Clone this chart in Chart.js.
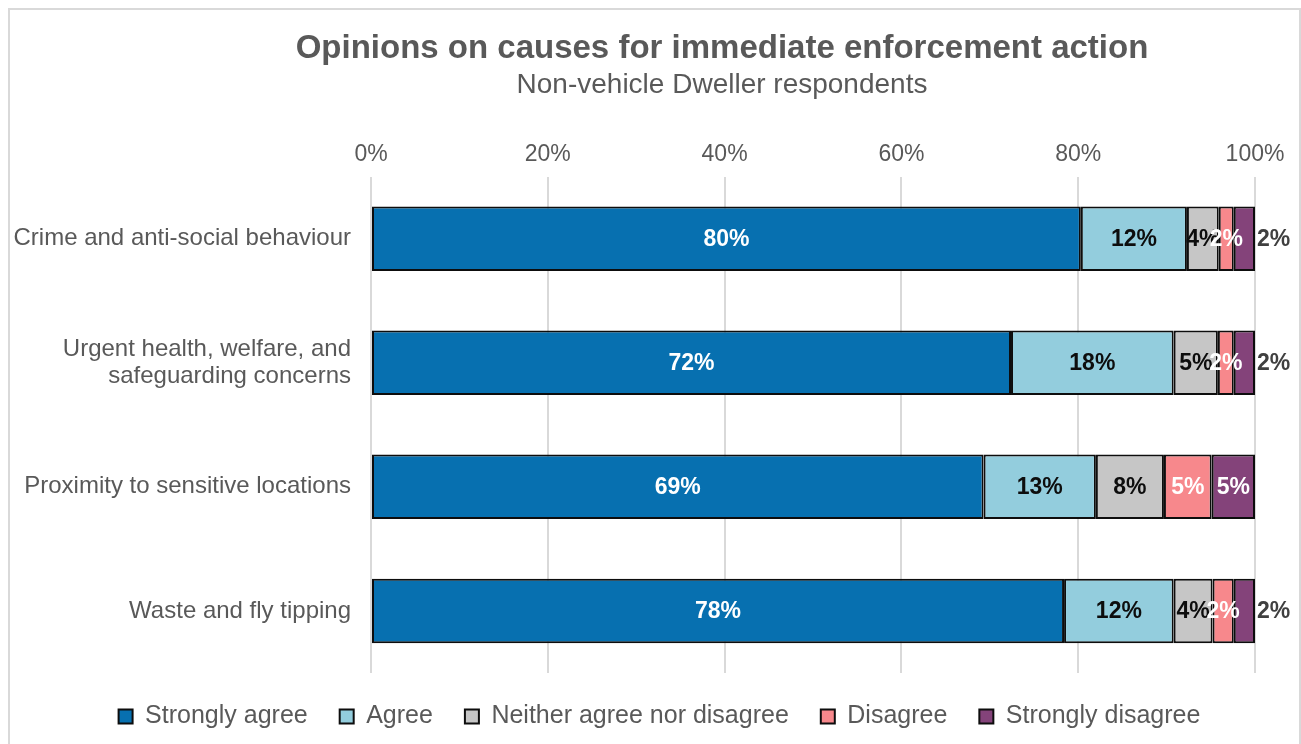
<!DOCTYPE html>
<html>
<head>
<meta charset="utf-8">
<script src="https://cdn.jsdelivr.net/npm/chart.js@4.4.1/dist/chart.umd.min.js"></script>
<style>
  html, body { margin: 0; padding: 0; background: #fff; }
  .frame {
    position: absolute; left: 8px; top: 8px;
    width: 1289px; height: 780px;
    border: 2px solid #d9d9d9;
  }
  .wrap { position: absolute; left: 0; top: 0; width: 1301px; height: 744px; }
</style>
</head>
<body>
<div class="frame"></div>
<div class="wrap"><canvas id="chart" width="1301" height="744"></canvas></div>
<script>
const categories = [
    'Crime and anti-social behaviour',
    ['Urgent health, welfare, and', 'safeguarding concerns'],
    'Proximity to sensitive locations',
    'Waste and fly tipping'
];
const stronglyAgree = [80.3, 72.4, 69.3, 78.4];
const agree = [12.0, 18.4, 12.7, 12.4];
const neither = [3.6, 5.0, 7.7, 4.4];
const disagree = [1.7, 1.8, 5.4, 2.4];
const stronglyDisagree = [2.4, 2.4, 4.9, 2.4];
const xTicks = [0, 20, 40, 60, 80, 100];

const textGrey = '#595959';
const fontFamily = '"Liberation Sans", Arial, sans-serif';

// label colour per series, small strongly-disagree values go outside the bar
const labelColours = ['#ffffff', '#0d0d0d', '#0d0d0d', '#ffffff', '#ffffff'];

const barLabels = {
    id: 'barLabels',
    afterDatasetsDraw(chart) {
        const ctx = chart.ctx;
        ctx.save();
        ctx.font = 'bold 23px ' + fontFamily;
        ctx.textBaseline = 'middle';
        chart.data.datasets.forEach((ds, di) => {
            const meta = chart.getDatasetMeta(di);
            meta.data.forEach((bar, i) => {
                const v = ds.data[i];
                const text = Math.round(v) + '%';
                if (di === 4 && v < 3) {
                    ctx.fillStyle = '#404040';
                    ctx.textAlign = 'left';
                    ctx.fillText(text, bar.x + 2, bar.y + 1);
                } else {
                    ctx.fillStyle = labelColours[di];
                    ctx.textAlign = 'center';
                    ctx.fillText(text, (bar.x + bar.base) / 2, bar.y + 1);
                }
            });
        });
        ctx.restore();
    }
};

const headings = {
    id: 'headings',
    afterDraw(chart) {
        const ctx = chart.ctx;
        ctx.save();
        ctx.fillStyle = textGrey;
        ctx.textAlign = 'center';
        ctx.textBaseline = 'middle';
        ctx.font = 'bold 33px ' + fontFamily;
        ctx.fillText('Opinions on causes for immediate enforcement action', 722, 49);
        ctx.font = '28px ' + fontFamily;
        ctx.fillText('Non-vehicle Dweller respondents', 722, 85);
        ctx.restore();
    }
};

// nudge the legend so it sits centred under the whole figure
const legendNudge = {
    id: 'legendNudge',
    afterLayout(chart) {
        const lg = chart.legend;
        lg.left += 25;
        lg.right += 25;
        lg.top -= 1;
        lg.bottom -= 1;
    }
};

function series(label, data, colour) {
    return {
        label: label,
        data: data,
        backgroundColor: colour,
        borderColor: '#0d0d0d',
        borderWidth: 2,
        borderSkipped: false,
        barPercentage: 0.52,
        categoryPercentage: 1
    };
}

new Chart(document.getElementById('chart'), {
    type: 'bar',
    data: {
        labels: categories,
        datasets: [
            series('Strongly agree', stronglyAgree, '#0770b0'),
            series('Agree', agree, '#93cddd'),
            series('Neither agree nor disagree', neither, '#c6c6c6'),
            series('Disagree', disagree, '#f7888c'),
            series('Strongly disagree', stronglyDisagree, '#84437a')
        ]
    },
    options: {
        indexAxis: 'y',
        responsive: false,
        animation: false,
        layout: { padding: { top: 133, right: 46, bottom: 4, left: 14 } },
        scales: {
            x: {
                position: 'top',
                stacked: true,
                min: 0,
                max: 100,
                afterBuildTicks(axis) {
                    axis.ticks = xTicks.map(v => ({ value: v }));
                },
                ticks: {
                    color: textGrey,
                    font: { family: fontFamily, size: 23 },
                    padding: 8,
                    callback: v => v + '%'
                },
                grid: { color: '#d9d9d9', lineWidth: 2, drawTicks: false },
                border: { display: false }
            },
            y: {
                stacked: true,
                // fixed width so the plot starts at the same place regardless of label length
                afterFit(axis) {
                    axis.width = 357;
                },
                ticks: {
                    color: textGrey,
                    font: { family: fontFamily, size: 24, lineHeight: 1.15 },
                    padding: 20
                },
                grid: { display: false, drawTicks: false },
                border: { display: false }
            }
        },
        plugins: {
            legend: {
                position: 'bottom',
                labels: {
                    color: textGrey,
                    font: { family: fontFamily, size: 25 },
                    boxWidth: 14,
                    boxHeight: 14,
                    padding: 32
                }
            },
            tooltip: { enabled: false }
        }
    },
    plugins: [barLabels, headings, legendNudge]
});
</script>
</body>
</html>
